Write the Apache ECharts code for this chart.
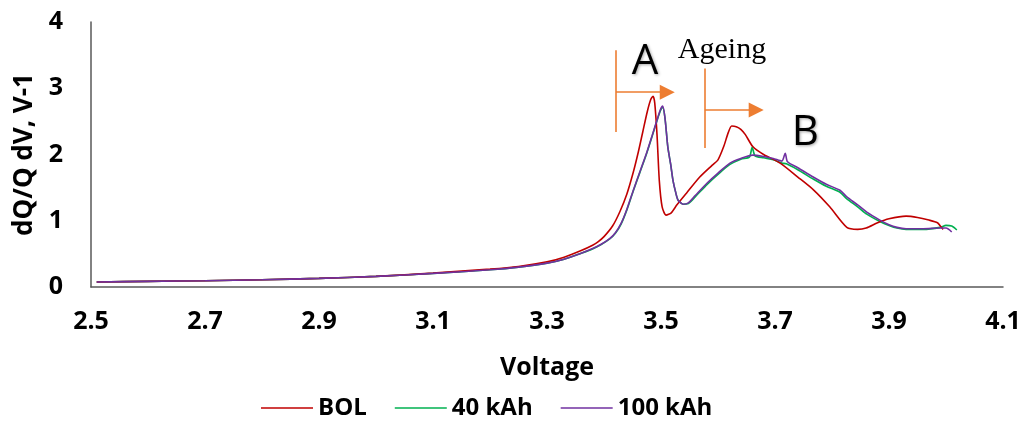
<!DOCTYPE html>
<html><head><meta charset="utf-8">
<script src="https://cdn.jsdelivr.net/npm/echarts@6/dist/echarts.min.js"></script>
<style>html,body{margin:0;padding:0;background:#fff}#c{width:1026px;height:430px}</style>
</head><body><div id="c"></div>
<script>
const xTicks = ["2.5","2.7","2.9","3.1","3.3","3.5","3.7","3.9","4.1"];
const yTicks = ["0","1","2","3","4"];
const seriesNames = ["BOL","40 kAh","100 kAh"];

const bolV = [2.51,2.6,2.7,2.8,2.9,3.0,3.1,3.2,3.25,3.3,3.33,3.36,3.38,3.39,3.40,3.415,3.428,3.44,3.451,3.46,3.468,3.476,3.482,3.486,3.489,3.493,3.497,3.502,3.509,3.518,3.528,3.545,3.568,3.59,3.60,3.61,3.618,3.624,3.632,3.64,3.648,3.661,3.68,3.709,3.74,3.767,3.796,3.826,3.845,3.86,3.88,3.90,3.93,3.95,3.97,3.985,3.99,3.995];
const bolY = [0.075,0.085,0.095,0.11,0.13,0.16,0.21,0.27,0.31,0.38,0.45,0.55,0.63,0.685,0.76,0.92,1.14,1.40,1.72,2.03,2.34,2.65,2.83,2.88,2.78,2.30,1.61,1.21,1.085,1.12,1.24,1.42,1.66,1.84,1.92,2.12,2.33,2.43,2.42,2.38,2.30,2.12,2.00,1.87,1.66,1.47,1.21,0.90,0.87,0.89,0.97,1.03,1.07,1.05,1.01,0.97,0.92,0.87];

const k40V = [2.51,2.6,2.7,2.8,2.9,3.0,3.1,3.2,3.25,3.3,3.33,3.36,3.38,3.395,3.41,3.42,3.43,3.44,3.451,3.463,3.475,3.485,3.493,3.499,3.503,3.507,3.512,3.517,3.521,3.526,3.530,3.539,3.548,3.56,3.581,3.60,3.621,3.64,3.655,3.66,3.665,3.68,3.697,3.712,3.72,3.74,3.767,3.79,3.814,3.826,3.845,3.861,3.884,3.90,3.914,3.93,3.96,3.99,4.0,4.01,4.019];
const k40Y = [0.075,0.085,0.095,0.11,0.13,0.16,0.205,0.26,0.30,0.36,0.42,0.51,0.575,0.64,0.725,0.81,0.95,1.16,1.44,1.73,2.02,2.29,2.51,2.66,2.71,2.55,2.11,1.85,1.61,1.42,1.31,1.25,1.26,1.36,1.55,1.70,1.85,1.93,1.96,2.11,1.98,1.95,1.92,1.87,1.86,1.77,1.63,1.52,1.43,1.33,1.21,1.10,0.99,0.93,0.89,0.87,0.87,0.90,0.93,0.92,0.86];

const k100V = [2.51,2.6,2.7,2.8,2.9,3.0,3.1,3.2,3.25,3.3,3.33,3.36,3.38,3.395,3.41,3.42,3.43,3.44,3.451,3.463,3.475,3.485,3.493,3.499,3.503,3.507,3.512,3.517,3.521,3.526,3.530,3.539,3.548,3.56,3.581,3.60,3.621,3.64,3.661,3.68,3.697,3.712,3.718,3.722,3.74,3.767,3.79,3.814,3.826,3.845,3.861,3.884,3.90,3.914,3.93,3.96,3.99,4.0,4.01];
const k100Y = [0.075,0.085,0.095,0.11,0.13,0.16,0.205,0.26,0.30,0.36,0.42,0.51,0.58,0.645,0.73,0.82,0.96,1.17,1.45,1.74,2.03,2.30,2.52,2.68,2.73,2.55,2.11,1.85,1.61,1.42,1.31,1.25,1.27,1.38,1.57,1.72,1.87,1.94,1.99,1.97,1.94,1.90,2.02,1.89,1.80,1.66,1.55,1.46,1.36,1.24,1.13,1.01,0.94,0.90,0.88,0.88,0.89,0.89,0.83];

const pairs = (xs, ys) => xs.map((x, i) => [x, ys[i]]);
const colors = ["#C00000","#00B050","#7030A0"];
const orange = "#ED7D31";
const font = "'Open Sans', sans-serif";

const chart = echarts.init(document.getElementById('c'), null, {renderer:'canvas'});
const lineSeries = (name, data, color, extra) => Object.assign({
  name, type:'line', data, symbol:'none', smooth:0.25, color,
  lineStyle:{color, width:1.6}, animation:false
}, extra || {});

const arrowLines = {
  silent:true, animation:false,
  lineStyle:{color:orange, width:1.6, type:'solid'},
  label:{show:false},
  data:[
    [{coord:[3.421,3.575],symbol:'none'},{coord:[3.421,2.34],symbol:'none'}],
    [{coord:[3.421,2.94],symbol:'none'},{coord:[3.511,2.94],symbol:'triangle',symbolSize:[15,15]}],
    [{coord:[3.577,3.30],symbol:'none'},{coord:[3.577,2.10],symbol:'none'}],
    [{coord:[3.577,2.67],symbol:'none'},{coord:[3.667,2.67],symbol:'triangle',symbolSize:[15,15]}]
  ]
};
const labelPts = {
  silent:true, animation:false, symbol:'circle', symbolSize:0,
  data:[
    {coord:[3.472,3.39], label:{show:true, position:'inside', formatter:'A', fontFamily:font, fontSize:42, color:'#000', textShadowColor:'rgba(0,0,0,0.35)', textShadowBlur:3, textShadowOffsetX:1, textShadowOffsetY:1}},
    {coord:[3.753,2.32], label:{show:true, position:'inside', formatter:'B', fontFamily:font, fontSize:42, color:'#000', textShadowColor:'rgba(0,0,0,0.35)', textShadowBlur:3, textShadowOffsetX:1, textShadowOffsetY:1}},
    {coord:[3.607,3.57], label:{show:true, position:'inside', formatter:'Ageing', fontFamily:"'Liberation Serif', serif", fontSize:30, color:'#000'}}
  ]
};

chart.setOption({
  backgroundColor:'#fff',
  animation:false,
  grid:{left:91, right:23, top:22, bottom:143, containLabel:false},
  legend:{
    data:seriesNames, bottom:5, left:256, itemWidth:52, itemHeight:14, itemGap:28,
    icon:'path://M0,6 L52,6 L52,7.5 L0,7.5 Z',
    textStyle:{fontFamily:font, fontSize:24, fontWeight:'bold', color:'#000'}
  },
  xAxis:{
    type:'value', min:2.5, max:4.1, interval:0.2,
    name:'Voltage', nameLocation:'middle', nameGap:68,
    nameTextStyle:{fontFamily:font, fontSize:25, fontWeight:'bold', color:'#000'},
    axisLine:{show:true, lineStyle:{color:'#595959', width:1.5}},
    axisTick:{show:false}, splitLine:{show:false},
    axisLabel:{margin:22, fontFamily:font, fontSize:25, fontWeight:'bold', color:'#000',
      formatter:(v)=>{const s=v.toFixed(1); return xTicks.includes(s)?s:'';}}
  },
  yAxis:{
    type:'value', min:0, max:4, interval:1,
    name:'dQ/Q dV, V-1', nameLocation:'middle', nameGap:52, nameRotate:90,
    nameTextStyle:{fontFamily:font, fontSize:26, fontWeight:'bold', color:'#000'},
    axisLine:{show:true, lineStyle:{color:'#595959', width:1.5}},
    axisTick:{show:false}, splitLine:{show:false},
    axisLabel:{margin:28, fontFamily:font, fontSize:25, fontWeight:'bold', color:'#000',
      formatter:(v)=>{const s=String(Math.round(v)); return yTicks.includes(s)?s:'';}}
  },
  series:[
    lineSeries(seriesNames[0], pairs(bolV,bolY), colors[0], {z:3, markLine:arrowLines, markPoint:labelPts}),
    lineSeries(seriesNames[1], pairs(k40V,k40Y), colors[1], {z:2}),
    lineSeries(seriesNames[2], pairs(k100V,k100Y), colors[2], {z:4})
  ]
});
</script></body></html>
